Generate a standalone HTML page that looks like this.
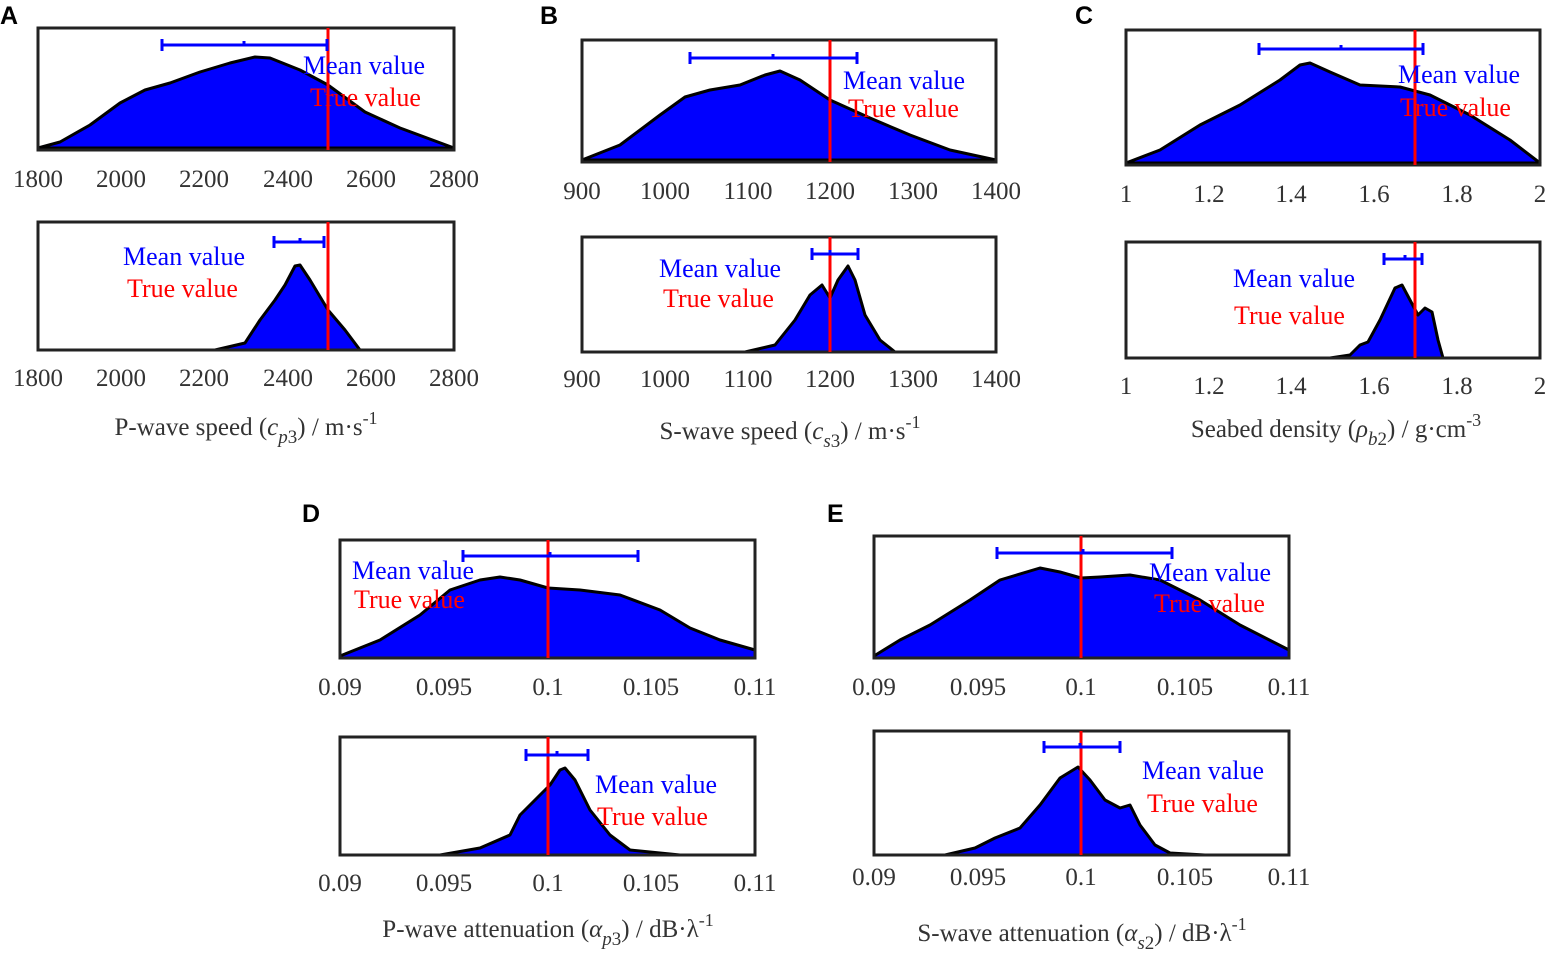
<!DOCTYPE html>
<html><head><meta charset="utf-8"><style>
body{margin:0;background:#fff}
svg{display:block}
.t{font-family:"Liberation Serif",serif;font-size:25px;fill:#333;text-anchor:middle}
.m{font-family:"Liberation Serif",serif;font-size:26px;fill:#00f}
.r{font-family:"Liberation Serif",serif;font-size:26px;fill:#f00}
.L{font-family:"Liberation Sans",sans-serif;font-size:25px;font-weight:bold;fill:#000}
.x{font-family:"Liberation Serif",serif;font-size:25px;fill:#333;text-anchor:middle}
.c{fill:#0000ff;stroke:#000;stroke-width:3;stroke-linejoin:round}
.b{fill:none;stroke:#222;stroke-width:3}
.e{stroke:#00f;stroke-width:3;fill:none}
.v{stroke:#f00;stroke-width:3}
</style></head><body>
<svg width="1548" height="957" xmlns="http://www.w3.org/2000/svg">
<text class="L" x="0" y="24">A</text>
<text class="L" x="540" y="24">B</text>
<text class="L" x="1075" y="24">C</text>
<text class="L" x="302" y="522">D</text>
<text class="L" x="827" y="522">E</text>

<!-- A top -->
<polygon class="c" points="38,148 60,142 90,125 120,103 145,90 170,83 200,72 230,63 255,57 270,58 300,70 328,85 365,112 400,128 454,148"/>
<rect class="b" x="38" y="28" width="416" height="122"/>
<line class="v" x1="328" y1="28" x2="328" y2="150"/>
<path class="e" d="M162,45H327M162,39V51M327,39V51M244,41V45"/>
<text class="m" x="303" y="74">Mean value</text><text class="r" x="310" y="106">True value</text>
<g class="t"><text x="38" y="187">1800</text><text x="121" y="187">2000</text><text x="204" y="187">2200</text><text x="288" y="187">2400</text><text x="371" y="187">2600</text><text x="454" y="187">2800</text></g>
<!-- A bottom -->
<polygon class="c" points="215,350 245,343 260,320 275,300 285,285 295,266 300,265 310,280 328,310 345,330 360,350"/>
<rect class="b" x="38" y="222" width="416" height="128"/>
<line class="v" x1="328" y1="222" x2="328" y2="350"/>
<path class="e" d="M274,242H324M274,236V248M324,236V248M300,238V242"/>
<text class="m" x="123" y="265">Mean value</text><text class="r" x="127" y="297">True value</text>
<g class="t"><text x="38" y="386">1800</text><text x="121" y="386">2000</text><text x="204" y="386">2200</text><text x="288" y="386">2400</text><text x="371" y="386">2600</text><text x="454" y="386">2800</text></g>
<text class="x" x="246" y="435">P-wave speed (<tspan font-style="italic">c</tspan><tspan font-style="italic" font-size="19" dy="8">p</tspan><tspan font-size="19">3</tspan><tspan dy="-8">) / m·s</tspan><tspan font-size="18" dy="-11">-1</tspan></text>

<!-- B top -->
<polygon class="c" points="582,160 620,145 660,115 685,97 710,90 740,85 765,75 780,71 800,80 830,100 870,118 910,135 950,150 996,160"/>
<rect class="b" x="582" y="40" width="414" height="122"/>
<line class="v" x1="830" y1="40" x2="830" y2="162"/>
<path class="e" d="M690,58H857M690,52V64M857,52V64M773,54V58"/>
<text class="m" x="843" y="89">Mean value</text><text class="r" x="848" y="117">True value</text>
<g class="t"><text x="582" y="199">900</text><text x="665" y="199">1000</text><text x="748" y="199">1100</text><text x="830" y="199">1200</text><text x="913" y="199">1300</text><text x="996" y="199">1400</text></g>
<!-- B bottom -->
<polygon class="c" points="745,352 775,345 795,320 810,295 822,285 830,298 838,280 848,266 855,280 865,315 880,340 895,352"/>
<rect class="b" x="582" y="237" width="414" height="115"/>
<line class="v" x1="830" y1="237" x2="830" y2="352"/>
<path class="e" d="M812,254H858M812,248V260M858,248V260M830,250V254"/>
<text class="m" x="659" y="277">Mean value</text><text class="r" x="663" y="307">True value</text>
<g class="t"><text x="582" y="387">900</text><text x="665" y="387">1000</text><text x="748" y="387">1100</text><text x="830" y="387">1200</text><text x="913" y="387">1300</text><text x="996" y="387">1400</text></g>
<text class="x" x="790" y="439">S-wave speed (<tspan font-style="italic">c</tspan><tspan font-style="italic" font-size="19" dy="8">s</tspan><tspan font-size="19">3</tspan><tspan dy="-8">) / m·s</tspan><tspan font-size="18" dy="-11">-1</tspan></text>

<!-- C top -->
<polygon class="c" points="1126,163 1160,150 1200,125 1240,105 1280,80 1300,65 1310,63 1330,72 1360,85 1400,87 1430,95 1470,115 1510,140 1540,163"/>
<rect class="b" x="1126" y="30" width="414" height="135"/>
<line class="v" x1="1415" y1="30" x2="1415" y2="165"/>
<path class="e" d="M1259,49H1423M1259,43V55M1423,43V55M1341,45V49"/>
<text class="m" x="1398" y="83">Mean value</text><text class="r" x="1400" y="116">True value</text>
<g class="t"><text x="1126" y="202">1</text><text x="1209" y="202">1.2</text><text x="1291" y="202">1.4</text><text x="1374" y="202">1.6</text><text x="1457" y="202">1.8</text><text x="1540" y="202">2</text></g>
<!-- C bottom -->
<polygon class="c" points="1330,358 1350,355 1360,345 1368,342 1380,320 1395,288 1402,285 1410,300 1418,315 1425,308 1432,312 1438,340 1443,358"/>
<rect class="b" x="1126" y="242" width="414" height="116"/>
<line class="v" x1="1415" y1="242" x2="1415" y2="358"/>
<path class="e" d="M1384,259H1422M1384,253V265M1422,253V265M1405,255V259"/>
<text class="m" x="1233" y="287">Mean value</text><text class="r" x="1234" y="324">True value</text>
<g class="t"><text x="1126" y="394">1</text><text x="1209" y="394">1.2</text><text x="1291" y="394">1.4</text><text x="1374" y="394">1.6</text><text x="1457" y="394">1.8</text><text x="1540" y="394">2</text></g>
<text class="x" x="1336" y="437">Seabed density (<tspan font-style="italic">ρ</tspan><tspan font-style="italic" font-size="19" dy="8">b</tspan><tspan font-size="19">2</tspan><tspan dy="-8">) / g·cm</tspan><tspan font-size="18" dy="-11">-3</tspan></text>

<!-- D top -->
<polygon class="c" points="340,656 380,640 420,615 450,590 480,580 500,577 520,580 548,588 580,590 620,595 660,610 690,628 720,640 755,650 755,658 340,658"/>
<rect class="b" x="340" y="540" width="415" height="118"/>
<line class="v" x1="548" y1="540" x2="548" y2="658"/>
<path class="e" d="M463,556H638M463,550V562M638,550V562M550,552V556"/>
<text class="m" x="352" y="579">Mean value</text><text class="r" x="354" y="608">True value</text>
<g class="t"><text x="340" y="695">0.09</text><text x="444" y="695">0.095</text><text x="548" y="695">0.1</text><text x="651" y="695">0.105</text><text x="755" y="695">0.11</text></g>
<!-- D bottom -->
<polygon class="c" points="440,855 480,848 510,835 520,815 530,805 540,795 550,785 560,770 565,768 575,780 590,810 610,835 630,850 680,855"/>
<rect class="b" x="340" y="737" width="415" height="118"/>
<line class="v" x1="548" y1="737" x2="548" y2="855"/>
<path class="e" d="M526,755H588M526,749V761M588,749V761M557,751V755"/>
<text class="m" x="595" y="793">Mean value</text><text class="r" x="597" y="825">True value</text>
<g class="t"><text x="340" y="891">0.09</text><text x="444" y="891">0.095</text><text x="548" y="891">0.1</text><text x="651" y="891">0.105</text><text x="755" y="891">0.11</text></g>
<text class="x" x="548" y="937">P-wave attenuation (<tspan font-style="italic">α</tspan><tspan font-style="italic" font-size="19" dy="8">p</tspan><tspan font-size="19">3</tspan><tspan dy="-8">) / dB·λ</tspan><tspan font-size="18" dy="-11">-1</tspan></text>

<!-- E top -->
<polygon class="c" points="874,656 900,640 930,625 970,600 1000,580 1040,568 1060,572 1081,578 1100,577 1130,575 1160,580 1200,600 1240,625 1289,650 1289,658 874,658"/>
<rect class="b" x="874" y="536" width="415" height="122"/>
<line class="v" x1="1081" y1="536" x2="1081" y2="658"/>
<path class="e" d="M997,553H1172M997,547V559M1172,547V559M1083,549V553"/>
<text class="m" x="1149" y="581">Mean value</text><text class="r" x="1154" y="612">True value</text>
<g class="t"><text x="874" y="695">0.09</text><text x="978" y="695">0.095</text><text x="1081" y="695">0.1</text><text x="1185" y="695">0.105</text><text x="1289" y="695">0.11</text></g>
<!-- E bottom -->
<polygon class="c" points="945,855 975,848 995,838 1020,828 1040,805 1060,778 1078,767 1090,780 1105,800 1120,808 1130,805 1140,825 1155,845 1170,853 1205,855"/>
<rect class="b" x="874" y="731" width="415" height="124"/>
<line class="v" x1="1081" y1="731" x2="1081" y2="855"/>
<path class="e" d="M1044,747H1120M1044,741V753M1120,741V753M1080,743V747"/>
<text class="m" x="1142" y="779">Mean value</text><text class="r" x="1147" y="812">True value</text>
<g class="t"><text x="874" y="885">0.09</text><text x="978" y="885">0.095</text><text x="1081" y="885">0.1</text><text x="1185" y="885">0.105</text><text x="1289" y="885">0.11</text></g>
<text class="x" x="1082" y="941">S-wave attenuation (<tspan font-style="italic">α</tspan><tspan font-style="italic" font-size="19" dy="8">s</tspan><tspan font-size="19">2</tspan><tspan dy="-8">) / dB·λ</tspan><tspan font-size="18" dy="-11">-1</tspan></text>
</svg>
</body></html>
